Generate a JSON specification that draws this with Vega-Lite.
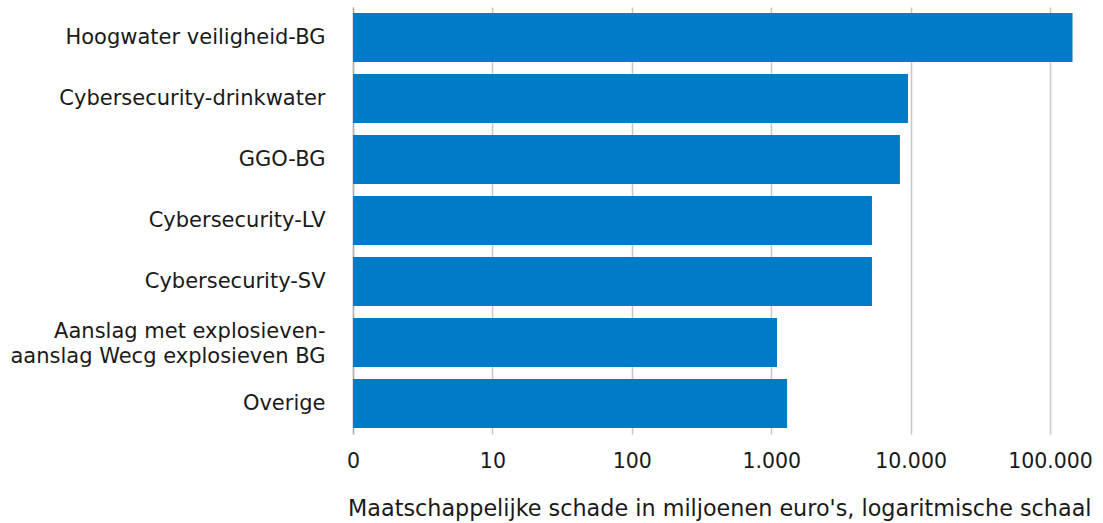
{
  "$schema": "https://vega.github.io/schema/vega-lite/v6.json",
  "autosize": "none",
  "padding": {"left": 353, "top": 7, "right": 11, "bottom": 89},
  "width": 739,
  "height": 427,
  "background": "white",
  "config": {
    "view": {"stroke": null},
    "font": "DejaVu Sans",
    "axis": {"labelFont": "DejaVu Sans", "titleFont": "DejaVu Sans", "labelColor": "#1a1a1a", "titleColor": "#1a1a1a", "titleFontWeight": "normal"}
  },
  "data": {
    "values": [
      {"categorie": "Hoogwater veiligheid-BG", "schade": 145000},
      {"categorie": "Cybersecurity-drinkwater", "schade": 9570},
      {"categorie": "GGO-BG", "schade": 8380},
      {"categorie": "Cybersecurity-LV", "schade": 5280},
      {"categorie": "Cybersecurity-SV", "schade": 5280},
      {"categorie": "Aanslag met explosieven-\naanslag Wecg explosieven BG", "schade": 1100},
      {"categorie": "Overige", "schade": 1300}
    ]
  },
  "mark": {"type": "bar", "color": "#007bc7"},
  "encoding": {
    "y": {
      "field": "categorie",
      "type": "nominal",
      "sort": null,
      "scale": {"paddingInner": 0.2, "paddingOuter": 0.1},
      "axis": {
        "title": null,
        "ticks": false,
        "domain": true,
        "domainColor": "#b4b4b4",
        "domainWidth": 1.5,
        "labelFontSize": 21,
        "labelPadding": 28,
        "labelLineHeight": 25,
        "labelLimit": 400,
        "labelOffset": {"condition": {"test": "indexof(datum.value, 'Aanslag') == 0", "value": -10.5}, "value": 0},
        "labelExpr": "split(datum.label, '\\n')"
      }
    },
    "x": {
      "field": "schade",
      "type": "quantitative",
      "scale": {"type": "log", "domain": [1, 200000], "nice": false},
      "axis": {
        "title": "Maatschappelijke schade in miljoenen euro's, logaritmische schaal",
        "titleAnchor": "end",
        "titleAlign": "right",
        "titleFontSize": 22.3,
        "titlePadding": 26,
        "titleX": 738,
        "values": [1, 10, 100, 1000, 10000, 100000],
        "labelExpr": "datum.value == 1 ? '0' : replace(format(datum.value, ','), regexp(',', 'g'), '.')",
        "labelFontSize": 20.5,
        "labelPadding": 17,
        "labelFlush": false,
        "labelOverlap": false,
        "grid": true,
        "gridColor": "#c8c8c8",
        "gridWidth": 1.5,
        "domain": false,
        "ticks": true,
        "tickColor": "#c8c8c8",
        "tickSize": 0
      }
    },
    "x2": {"datum": 1}
  }
}
